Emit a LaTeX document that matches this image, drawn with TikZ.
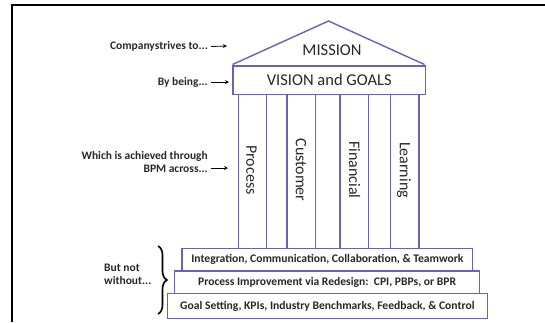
\documentclass[tikz,border=0pt]{standalone}
\usepackage{fontspec}
\setmainfont{Carlito}
\usetikzlibrary{decorations.pathreplacing}
\definecolor{pil}{RGB}{106,96,190}
\definecolor{txt}{RGB}{40,40,40}
\tikzset{
  pline/.style={draw=pil, line width=1.4pt},
  lbl/.style={font=\fontsize{11.5}{13}\selectfont\bfseries, text=txt, inner sep=0pt, align=right},
  coltext/.style={font=\fontsize{16}{18}\selectfont, text=txt, rotate=-90, inner sep=0pt},
  steptext/.style={font=\fontsize{11.6}{13}\selectfont\bfseries, text=txt, inner sep=0pt},
  arr/.style={->, >=stealth, line width=0.8pt, black}
}
\begin{document}
\begin{tikzpicture}[x=1pt,y=-1pt]
\useasboundingbox (0,0) rectangle (545,322);
% frame
\draw[line width=2pt] (12,322) -- (12,5) -- (545,5);
% roof
\coordinate (rl) at (232.5,64.5);
\coordinate (rr) at (424.5,64.5);
\coordinate (ap) at (328.5,21);
\draw[pline] (rl) -- (ap) -- (rr);
\node[font=\fontsize{16.5}{18}\selectfont, text=txt] (mission) at (332,50) {MISSION};
% vision box
\node[pline, minimum width=192.5pt, minimum height=28.5pt, inner sep=0pt, anchor=north west,
      font=\fontsize{16.5}{18}\selectfont, text=txt] (vision) at (232.3,65.3) {VISION and GOALS};
% columns
\foreach \x [count=\i] in {238.4,266.6,287.1,315.6,339.9,368.4,390.7,418.8}{
  \coordinate (ct\i) at (\x,93.8);
  \coordinate (cb\i) at (\x,247.8);
  \draw[pline] (ct\i) -- (cb\i);
}
\node[coltext] (process) at (251.5,170) {Process};
\node[coltext] (customer) at (301,170) {Customer};
\node[coltext] (financial) at (354.5,170) {Financial};
\node[coltext] (learning) at (404,170) {Learning};
% steps
\node[pline, fill=white, minimum width=290.6pt, minimum height=22.6pt, inner sep=0pt, anchor=north west] (s1) at (181.4,247.8) {};
\node[steptext] at (s1.center) {Integration, Communication, Collaboration, \& Teamwork};
\node[pline, fill=white, minimum width=305.2pt, minimum height=22.6pt, inner sep=0pt, anchor=north west] (s2) at (173.8,270.4) {};
\node[steptext] at (s2.center) {Process Improvement via Redesign:\ \ CPI, PBPs, or BPR};
\node[pline, fill=white, minimum width=319.8pt, minimum height=25pt, inner sep=0pt, anchor=north west] (s3) at (166.8,293) {};
\node[steptext] at (s3.center) {Goal Setting, KPIs, Industry Benchmarks, Feedback, \& Control};
% left labels
\node[lbl, anchor=east] (l1) at (208,46.5) {Companystrives to...};
\coordinate (a1) at (227,46);
\draw[arr] (l1.east) ++(3,0) -- (a1);
\node[lbl, anchor=east] (l2) at (208,82) {By being...};
\coordinate (a2) at (229,82);
\draw[arr] (l2.east) ++(3,0) -- (a2);
\node[lbl, anchor=east] (l3) at (208,162) {Which is achieved through\\BPM across...};
\coordinate (a3) at (228,168);
\draw[arr] (208,168) ++(3,0) -- (a3);
% brace
\coordinate (bt) at (158,246);
\coordinate (bb) at (158,314);
\draw[decorate, decoration={brace, amplitude=9pt}, line width=1.6pt] (bt) -- (bb);
\node[lbl, align=left, anchor=west] (bnw) at (104,274) {But not\\without...};
\end{tikzpicture}
\end{document}
